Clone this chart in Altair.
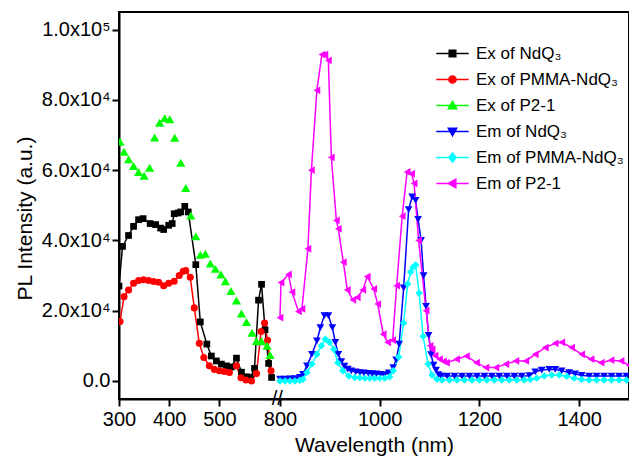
import json
import altair as alt
import pandas as pd

FONT = "Liberation Sans"

SERIES = ["Ex of NdQ₃", "Ex of PMMA-NdQ₃", "Ex of P2-1",
          "Em of NdQ₃", "Em of PMMA-NdQ₃", "Em of P2-1"]
COLORS = ["#000000", "#ff0000", "#00ff00", "#0000ff", "#00ffff", "#ff00ff"]
MARKERS = ["square", "circle", "triangle-up", "triangle-down", "diamond", "triangle-left"]
MARKER_SIZES = [45, 50, 85, 60, 55, 60]
NO_LINE = ["Ex of P2-1"]

_L = "M-2.7,0H2.7"
LEGEND_SHAPES = [
    _L + "M-0.55,-0.55H0.55V0.55H-0.55Z",
    _L + "M-0.6,0A0.6,0.6,0,1,1,0.6,0A0.6,0.6,0,1,1,-0.6,0Z",
    _L + "M0,-0.7L0.7,0.55H-0.7Z",
    _L + "M0,0.7L0.7,-0.55H-0.7Z",
    _L + "M0,-0.75L0.6,0L0,0.75L-0.6,0Z",
    _L + "M-0.7,0L0.55,-0.7V0.7Z",
]

# Broken wavelength axis: 300-610 nm, break, 800-1500 nm
X_DOMAIN = [300, 610, 800, 1500]
X_RANGE = [0, 155.6, 161, 510]
X_TICKS = [300, 350, 400, 450, 500, 550, 800, 900, 1000, 1100, 1200, 1300, 1400, 1500]
X_LABELED = [300, 400, 500, 800, 1000, 1200, 1400]
BREAK_AT = [705]

Y_DOMAIN = [-5130, 105000]
Y_TICKS = [0, 10000, 20000, 30000, 40000, 50000, 60000, 70000, 80000, 90000, 100000]
Y_TICK_LABELS = ["0.0", "", "2.0x10⁴", "", "4.0x10⁴", "", "6.0x10⁴", "", "8.0x10⁴", "", "1.0x10⁵"]

# ---- Ex of NdQ3 (black squares)
ex_ndq3_wl = [300, 307, 319, 329, 339, 348, 362, 373, 383, 389, 399, 406, 410, 418, 423, 431, 438,
              453, 462, 475, 484, 494, 504, 514, 524, 534, 544, 554, 562, 570, 578, 584, 591, 598, 604]
ex_ndq3_val = [27000, 38300, 41400, 44000, 45900, 46200, 44800, 44500, 43500, 43100, 44300, 44800, 47600,
               47800, 48100, 49700, 48100, 33100, 16800, 10500, 7100, 5700, 4800, 4300, 4000, 6500, 2500,
               1200, 1000, 3600, 23000, 27500, 14600, 5000, 1000]

# ---- Ex of PMMA-NdQ3 (red circles)
ex_pmma_wl = [302, 310, 319, 329, 339, 349, 359, 369, 379, 389, 399, 410, 420, 428, 433, 442, 450, 460,
              469, 480, 490, 500, 510, 520, 534, 543, 553, 564, 574, 583, 590, 596, 603]
ex_pmma_val = [16900, 24000, 25900, 27800, 28600, 28800, 28600, 28300, 28100, 27100, 27800, 28400, 30000,
               31200, 31400, 29500, 20800, 10700, 6700, 4300, 3300, 2900, 2700, 2400, 4300, 900, 300, 0,
               2100, 14100, 16500, 11600, 2900]

# ---- Ex of P2-1 (green triangles, markers only)
ex_p21_wl = [302, 310, 319, 329, 339, 350, 361, 371, 381, 391, 401, 411, 423, 433, 443, 453, 462, 472,
             482, 492, 503, 512, 523, 534, 544, 554, 565, 574, 584, 595, 601]
ex_p21_val = [68100, 65200, 63100, 61200, 59500, 58400, 60700, 69300, 73500, 74800, 74500, 69200, 62100,
              54900, 47100, 41200, 35900, 36200, 33400, 31900, 30300, 28400, 25600, 22900, 19200, 16800,
              13700, 11400, 11300, 10000, 7400]

# ---- Em of NdQ3 (blue down-triangles)
em_ndq3_wl = [800, 810, 820, 830, 840, 846, 854, 864, 874, 881, 889, 897, 905, 911, 917, 923, 929, 936,
              943, 952, 960, 968, 977, 985, 993, 1001, 1009, 1018, 1027, 1033, 1039, 1048, 1058, 1065,
              1072, 1077, 1083, 1088, 1093, 1098, 1103, 1108, 1113, 1118, 1123, 1135, 1150, 1165, 1180,
              1195, 1210, 1225, 1240, 1255, 1270, 1285, 1300, 1312, 1325, 1340, 1352, 1365, 1380, 1392,
              1405, 1420, 1435, 1450, 1465, 1480, 1495]
em_ndq3_val = [500, 500, 600, 700, 1000, 1900, 4300, 7600, 11400, 15200, 18600, 18600, 15200, 11000, 7600,
               5500, 4200, 3400, 2900, 2600, 2400, 2300, 2200, 2100, 2000, 1900, 1800, 2300, 3800, 6000,
               10500, 26500, 48800, 52400, 51400, 46000, 40000, 30000, 21200, 13000, 7500, 4500, 3100,
               1800, 1400, 1400, 1400, 1400, 1400, 1400, 1400, 1400, 1400, 1400, 1400, 1400, 1500, 2600,
               3100, 3300, 3300, 2900, 2400, 2000, 1600, 1400, 1400, 1400, 1400, 1400, 1400]

# ---- Em of PMMA-NdQ3 (cyan diamonds)
em_pmma_wl = [800, 810, 820, 830, 840, 846, 854, 864, 874, 883, 891, 899, 908, 916, 926, 938, 950, 960,
              970, 980, 990, 1000, 1010, 1020, 1027, 1038, 1048, 1056, 1062, 1067, 1072, 1079, 1087,
              1097, 1105, 1115, 1125, 1140, 1155, 1170, 1185, 1200, 1215, 1230, 1245, 1260, 1275, 1290,
              1302, 1315, 1330, 1345, 1360, 1375, 1390, 1405, 1420, 1435, 1450, 1465, 1480, 1495]
em_pmma_val = [0, 0, 0, 0, 200, 500, 2400, 4800, 7600, 10000, 11900, 11000, 9000, 5200, 2900, 1400, 1000,
               900, 800, 800, 800, 800, 800, 1200, 2900, 6800, 16500, 27600, 31000, 32400, 33000, 25000,
               12700, 4800, 1700, 500, 300, 300, 300, 300, 300, 300, 300, 300, 300, 300, 300, 300, 400,
               800, 1400, 1700, 1700, 1300, 800, 400, 300, 300, 300, 300, 300, 300]

# ---- Em of P2-1 (magenta left-triangles)
em_p21_wl = [800, 802, 817, 824, 837, 844, 856, 863, 874, 884, 890, 897, 903, 913, 917, 927, 935, 946,
             955, 966, 975, 988, 996, 1007, 1016, 1026, 1034, 1045, 1055, 1064, 1069, 1078, 1093, 1101,
             1105, 1111, 1120, 1128, 1134, 1154, 1174, 1194, 1213, 1233, 1253, 1273, 1293, 1312, 1332,
             1352, 1365, 1385, 1405, 1424, 1444, 1464, 1484, 1500]
em_p21_val = [18000, 28000, 30300, 25300, 19800, 20500, 37600, 60000, 82700, 92900, 92900, 91200, 63600,
              45700, 43300, 33800, 25900, 23100, 23800, 25900, 29700, 26200, 21900, 13300, 11000, 11600,
              27100, 46900, 59500, 59000, 56200, 40000, 20000, 10000, 9000, 7200, 6200, 5600, 5200, 6200,
              7100, 5200, 3800, 3800, 4800, 5700, 5700, 7600, 9500, 10700, 11000, 9500, 7600, 6200, 5200,
              5900, 5700, 4500]

SERIES_DATA = [
    (SERIES[0], ex_ndq3_wl, ex_ndq3_val),
    (SERIES[1], ex_pmma_wl, ex_pmma_val),
    (SERIES[2], ex_p21_wl, ex_p21_val),
    (SERIES[3], em_ndq3_wl, em_ndq3_val),
    (SERIES[4], em_pmma_wl, em_pmma_val),
    (SERIES[5], em_p21_wl, em_p21_val),
]

df = pd.concat(
    [pd.DataFrame({"wl": w, "val": v, "series": n}) for n, w, v in SERIES_DATA],
    ignore_index=True,
)
legend_df = pd.DataFrame({"series": SERIES, "val": [float("nan")] * len(SERIES)})
break_df = pd.DataFrame({"wl": BREAK_AT, "val": [Y_DOMAIN[0]] * len(BREAK_AT), "txt": ["//"] * len(BREAK_AT)})

major_x_test = f"indexof({json.dumps(X_LABELED)}, datum.value) >= 0"
x_axis = alt.Axis(
    values=X_TICKS,
    format="d",
    labelExpr=f"{major_x_test} ? datum.label : ''",
    tickSize={"condition": {"test": major_x_test, "value": 7}, "value": 4},
    grid=False,
    labelFlush=False,
    labelOverlap=False,
    labelPadding=3,
    titlePadding=5,
)
y_axis = alt.Axis(
    values=Y_TICKS,
    labelExpr=f"{json.dumps(Y_TICK_LABELS, ensure_ascii=False)}[round(datum.value / 10000)]",
    tickSize={"condition": {"test": "datum.value % 20000 === 0", "value": 7}, "value": 4},
    grid=False,
    labelFlush=False,
    labelOverlap=False,
    labelPadding=2,
    titlePadding=6,
    titleY=206,
)

x_scale = alt.Scale(domain=X_DOMAIN, range=X_RANGE, zero=False, nice=False)
y_scale = alt.Scale(domain=Y_DOMAIN, zero=False, nice=False)
color_scale = alt.Scale(domain=SERIES, range=COLORS)

X = alt.X("wl:Q", scale=x_scale, axis=x_axis, title="Wavelength (nm)")
Y = alt.Y("val:Q", scale=y_scale, axis=y_axis, title="PL Intensity (a.u.)")

base = alt.Chart(df)

layers = []
for s, col in zip(SERIES, COLORS):
    if s in NO_LINE:
        continue
    layers.append(
        base.transform_filter(alt.FieldEqualPredicate(field="series", equal=s))
        .mark_line(strokeWidth=1.5, color=col, clip=True)
        .encode(x=X, y=Y)
    )
for s, col, shp, sz in zip(SERIES, COLORS, MARKERS, MARKER_SIZES):
    layers.append(
        base.transform_filter(alt.FieldEqualPredicate(field="series", equal=s))
        .mark_point(shape=shp, filled=True, size=sz, opacity=1, color=col, clip=True)
        .encode(x=X, y=Y)
    )

leg = alt.Legend(
    title=None,
    orient="none",
    legendX=325,
    legendY=33,
    symbolSize=144,
    symbolStrokeWidth=1.5,
    labelFont=FONT,
    labelFontSize=17,
    labelColor="#000000",
    labelOffset=15,
    labelLimit=400,
    rowPadding=8,
    padding=0,
)
legend_layer = alt.Chart(legend_df).mark_point(filled=True, strokeWidth=1.5, opacity=1).encode(
    y=alt.Y("val:Q", scale=y_scale),
    color=alt.Color("series:N", scale=color_scale, legend=leg),
    stroke=alt.Stroke("series:N", scale=color_scale, legend=leg),
    shape=alt.Shape("series:N", scale=alt.Scale(domain=SERIES, range=LEGEND_SHAPES), legend=leg),
)
layers.append(legend_layer)

brk = alt.Chart(break_df).mark_text(
    font=FONT, fontSize=20, color="#000000", baseline="middle", align="center"
).encode(x=alt.X("wl:Q", scale=x_scale), y=alt.Y("val:Q", scale=y_scale), text="txt:N")
layers.append(brk)

chart = alt.layer(*layers).properties(
    width=510,
    height=387,
    autosize=alt.AutoSizeParams(type="none"),
    padding={"left": 111, "top": 4, "right": 0, "bottom": 60},
).configure_view(
    stroke="#000000", strokeWidth=2
).configure_axis(
    labelFont=FONT, titleFont=FONT, labelFontSize=20, titleFontSize=21,
    titleFontWeight="normal", labelColor="#000000", titleColor="#000000",
    domainColor="#000000", domainWidth=2, tickColor="#000000", tickWidth=2,
)

chart.save("out.html", embed_options={"renderer": "svg", "actions": False})
